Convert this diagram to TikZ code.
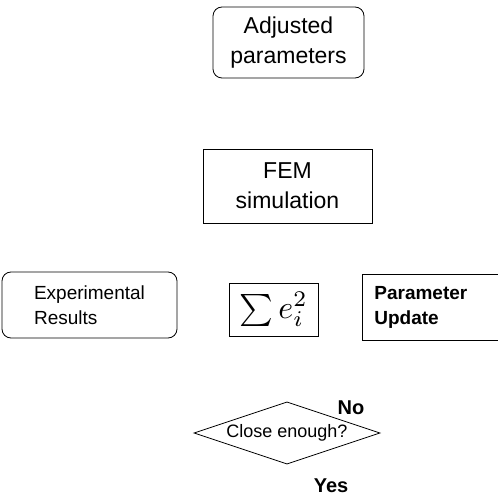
\documentclass[tikz,border=0pt]{standalone}
\usepackage{fontspec}
\setmainfont{Liberation Sans}
\usetikzlibrary{shapes.geometric}

\begin{document}
\begin{tikzpicture}[x=1pt, y=-1pt,
  box/.style={draw, line width=0.8pt, inner sep=2pt, align=center},
  roundbox/.style={box, rounded corners=9pt},
  bigtext/.style={font=\fontsize{23}{30}\selectfont},
  smalltext/.style={font=\fontsize{19}{25}\selectfont},
  answer/.style={font=\bfseries\fontsize{20}{24}\selectfont}]
  \useasboundingbox (0,0) rectangle (498,497);
  \clip (0,0) rectangle (498,497);

  %% Top of the loop
  \node[roundbox, bigtext, minimum width=151pt, minimum height=71pt]
    (adjusted) at (288.5,42.5) {Adjusted\\parameters};
  \node[box, bigtext, minimum width=169pt, minimum height=74pt]
    (fem) at (287.5,186) {FEM\\simulation};

  %% Middle row
  \node[roundbox, smalltext, align=left, minimum width=175pt, minimum height=66pt]
    (experiment) at (89.5,305) {Experimental\\Results};
  \node[box, minimum width=89pt, minimum height=53pt]
    (error) at (273.5,309.5) {\scalebox{3.2}{$\sum e_i^2$}};
  \node[box, font={\bfseries\fontsize{19}{25}\selectfont}, align=left, anchor=west,
        text width=150pt, minimum height=66pt, inner xsep=12pt]
    (update) at (362,307) {Parameter\\Update};

  %% Decision
  \node[draw, line width=0.8pt, diamond, aspect=2.66, inner sep=0pt,
        minimum width=186pt, font=\fontsize{18}{22}\selectfont]
    (check) at (287,433) {Close enough?};
  \node[answer] (no)  at (351,408) {No};
  \node[answer] (yes) at (331,486) {Yes};
\end{tikzpicture}
\end{document}
